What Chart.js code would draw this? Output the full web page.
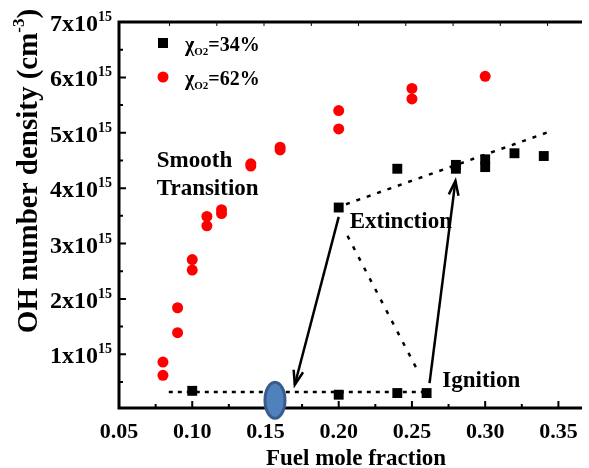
<!DOCTYPE html>
<html>
<head>
<meta charset="utf-8">
<script src="https://cdn.jsdelivr.net/npm/chart.js@4.4.1/dist/chart.umd.min.js"></script>
<style>
    html, body { margin: 0; padding: 0; background: #fff; }
    #wrap { width: 589px; height: 468px; }
</style>
</head>
<body>
<div id="wrap"><canvas id="ohChart" width="589" height="468"></canvas></div>
<script>
// OH number density values are in units of 1e15 cm^-3
const fuel34 = [0.10, 0.20, 0.24, 0.26, 0.20, 0.24, 0.28, 0.28, 0.30, 0.30, 0.32, 0.34];
const oh34 = [0.34, 0.27, 0.30, 0.30, 3.65, 4.35, 4.42, 4.35, 4.52, 4.38, 4.63, 4.58];

const fuel62 = [0.08, 0.08, 0.09, 0.09, 0.10, 0.10, 0.11, 0.11, 0.12, 0.12, 0.14, 0.14, 0.16, 0.16, 0.20, 0.20, 0.25, 0.25, 0.30];
const oh62 = [0.86, 0.62, 1.84, 1.39, 2.71, 2.52, 3.49, 3.32, 3.61, 3.54, 4.44, 4.40, 4.74, 4.69, 5.40, 5.07, 5.80, 5.61, 6.02];

// dotted guide lines (fuel fraction, OH density)
const upperGuideX = [0.205, 0.345];
const upperGuideY = [3.71, 5.03];
const lowerGuideX = [0.084, 0.26];
const lowerGuideY = [0.32, 0.32];
const diagGuideX = [0.206, 0.254];
const diagGuideY = [3.14, 0.70];

// solid arrows: [fromX, fromY, toX, toY]
const extinctionArrow = [0.200, 3.48, 0.170, 0.45];
const ignitionArrow = [0.262, 0.48, 0.2797, 4.13];

const xTicks = [0.05, 0.10, 0.15, 0.20, 0.25, 0.30, 0.35];
const xMinorTicks = [0.075, 0.125, 0.175, 0.225, 0.275, 0.325];
const topTicks = [0.0845, 0.1168, 0.1490, 0.1813, 0.2135, 0.2458, 0.2781, 0.3103, 0.3426];
const yTicks = [1, 2, 3, 4, 5, 6, 7];
const yMinorTicks = [0.5, 1.5, 2.5, 3.5, 4.5, 5.5, 6.5];
const yTickLabels = ['1x10', '2x10', '3x10', '4x10', '5x10', '6x10', '7x10'];

const serif = '"Liberation Serif", "Times New Roman", serif';

function pts(xs, ys) {
    return xs.map((x, i) => ({ x: x, y: ys[i] }));
}

function guide(xs, ys, dash) {
    return {
        data: pts(xs, ys),
        showLine: true,
        pointRadius: 0,
        borderColor: '#000',
        borderWidth: 2.5,
        borderDash: dash,
        order: 3
    };
}

// draws text pieces one after another; a piece may be raised or lowered
function drawPieces(ctx, pieces, x, y) {
    let cx = x;
    pieces.forEach(p => {
        ctx.font = 'bold ' + p.size + 'px ' + serif;
        ctx.fillText(p.text, cx, y + (p.dy || 0));
        cx += ctx.measureText(p.text).width;
    });
}

function piecesWidth(ctx, pieces) {
    let w = 0;
    pieces.forEach(p => {
        ctx.font = 'bold ' + p.size + 'px ' + serif;
        w += ctx.measureText(p.text).width;
    });
    return w;
}

function arrow(ctx, x, y, a) {
    const x0 = x.getPixelForValue(a[0]), y0 = y.getPixelForValue(a[1]);
    const x1 = x.getPixelForValue(a[2]), y1 = y.getPixelForValue(a[3]);
    const ang = Math.atan2(y1 - y0, x1 - x0);
    ctx.beginPath();
    ctx.moveTo(x0, y0);
    ctx.lineTo(x1, y1);
    ctx.stroke();
    ctx.beginPath();
    ctx.moveTo(x1 - 15 * Math.cos(ang - 0.33), y1 - 15 * Math.sin(ang - 0.33));
    ctx.lineTo(x1, y1);
    ctx.lineTo(x1 - 15 * Math.cos(ang + 0.33), y1 - 15 * Math.sin(ang + 0.33));
    ctx.stroke();
}

const decorPlugin = {
    id: 'decor',
    afterDatasetsDraw(chart) {
        const { ctx, chartArea: a, scales: { x, y } } = chart;
        ctx.save();
        ctx.fillStyle = '#000';
        ctx.strokeStyle = '#000';

        // arrows
        ctx.lineWidth = 2.5;
        arrow(ctx, x, y, extinctionArrow);
        arrow(ctx, x, y, ignitionArrow);

        // axes frame (right side is cut off in the original)
        ctx.lineWidth = 3;
        ctx.beginPath();
        ctx.moveTo(a.left - 1.5, a.top); ctx.lineTo(a.right, a.top);
        ctx.moveTo(a.left, a.top); ctx.lineTo(a.left, a.bottom + 1.5);
        ctx.moveTo(a.left - 1.5, a.bottom); ctx.lineTo(a.right, a.bottom);
        ctx.stroke();

        // inward ticks
        ctx.lineWidth = 2;
        ctx.beginPath();
        xTicks.forEach(v => { const px = x.getPixelForValue(v); ctx.moveTo(px, a.bottom); ctx.lineTo(px, a.bottom - 7); });
        xMinorTicks.forEach(v => { const px = x.getPixelForValue(v); ctx.moveTo(px, a.bottom); ctx.lineTo(px, a.bottom - 4); });
        yTicks.forEach(v => { const py = y.getPixelForValue(v); ctx.moveTo(a.left, py); ctx.lineTo(a.left + 7, py); });
        yMinorTicks.forEach(v => { const py = y.getPixelForValue(v); ctx.moveTo(a.left, py); ctx.lineTo(a.left + 4, py); });
        ctx.stroke();
        ctx.lineWidth = 1;
        ctx.beginPath();
        topTicks.forEach(v => { const px = x.getPixelForValue(v); ctx.moveTo(px, a.top); ctx.lineTo(px, a.top + 4); });
        ctx.stroke();

        // x tick labels
        ctx.textAlign = 'center';
        ctx.textBaseline = 'alphabetic';
        ctx.font = 'bold 22px ' + serif;
        xTicks.forEach(v => ctx.fillText(v.toFixed(2), x.getPixelForValue(v), 438));

        // x title
        ctx.font = 'bold 23px ' + serif;
        ctx.fillText('Fuel mole fraction', 356, 465);

        // y tick labels with superscript exponent
        ctx.textAlign = 'left';
        yTicks.forEach((v, i) => {
            const py = y.getPixelForValue(v) + 9;
            const pieces = [{ text: yTickLabels[i], size: 24 }, { text: '15', size: 14, dy: -10 }];
            const w = piecesWidth(ctx, pieces);
            drawPieces(ctx, pieces, 112 - w, py);
        });

        // y title, rotated
        ctx.save();
        ctx.translate(37, 171);
        ctx.rotate(-Math.PI / 2);
        const yTitle = [{ text: 'OH number density (cm', size: 29 }, { text: '-3', size: 17, dy: -13 }, { text: ')', size: 29 }];
        drawPieces(ctx, yTitle, -piecesWidth(ctx, yTitle) / 2, 0);
        ctx.restore();

        // legend
        ctx.fillRect(158, 38, 10, 10);
        ctx.fillStyle = '#ff0000';
        ctx.beginPath();
        ctx.arc(163, 77, 5.5, 0, Math.PI * 2);
        ctx.fill();
        ctx.fillStyle = '#000';
        drawPieces(ctx, [{ text: '\u03c7', size: 20 }, { text: 'O2', size: 11, dy: 4 }, { text: '=34%', size: 20 }], 185, 51);
        drawPieces(ctx, [{ text: '\u03c7', size: 20 }, { text: 'O2', size: 11, dy: 4 }, { text: '=62%', size: 20 }], 185, 85);

        // annotations
        ctx.font = 'bold 23px ' + serif;
        ctx.fillText('Smooth', x.getPixelForValue(0.0758), y.getPixelForValue(4.38));
        ctx.fillText('Transition', x.getPixelForValue(0.0758), y.getPixelForValue(3.87));
        ctx.fillText('Extinction', x.getPixelForValue(0.2075), y.getPixelForValue(3.28));
        ctx.fillText('Ignition', x.getPixelForValue(0.2707), y.getPixelForValue(0.41));

        // blue ellipse marker
        ctx.fillStyle = '#4f81bd';
        ctx.strokeStyle = '#385d8a';
        ctx.lineWidth = 3;
        ctx.beginPath();
        ctx.ellipse(x.getPixelForValue(0.1565), y.getPixelForValue(0.17), 10, 18, 0, 0, Math.PI * 2);
        ctx.fill();
        ctx.stroke();

        ctx.restore();
    }
};

const ctx = document.getElementById('ohChart').getContext('2d');
new Chart(ctx, {
    type: 'scatter',
    data: {
        datasets: [
            {
                label: 'xO2=34%',
                data: pts(fuel34, oh34),
                pointStyle: 'rect',
                pointRadius: 7,
                backgroundColor: '#000',
                borderColor: '#000',
                borderWidth: 0,
                order: 1
            },
            {
                label: 'xO2=62%',
                data: pts(fuel62, oh62),
                pointStyle: 'circle',
                pointRadius: 5.5,
                backgroundColor: '#ff0000',
                borderColor: '#ff0000',
                borderWidth: 0,
                order: 2
            },
            guide(upperGuideX, upperGuideY, [4, 7]),
            guide(lowerGuideX, lowerGuideY, [4, 5]),
            guide(diagGuideX, diagGuideY, [4, 8])
        ]
    },
    options: {
        responsive: false,
        animation: false,
        layout: { padding: { left: 119, top: 22, right: 0, bottom: 60 } },
        plugins: { legend: { display: false }, tooltip: { enabled: false } },
        scales: {
            x: { type: 'linear', min: 0.05, max: 0.3661, display: false },
            y: { type: 'linear', min: 0.03, max: 7, display: false }
        }
    },
    plugins: [decorPlugin]
});
</script>
</body>
</html>
